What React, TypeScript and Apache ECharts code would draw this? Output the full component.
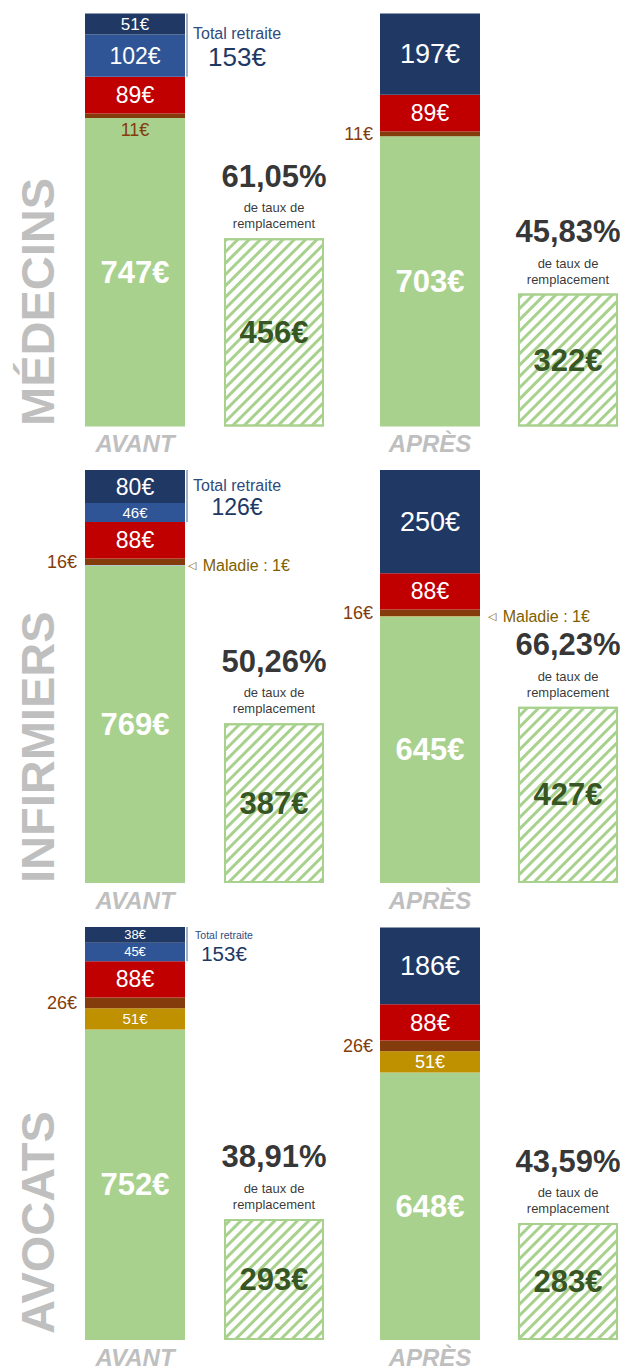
import React, { useEffect, useRef } from 'react';
import * as echarts from 'echarts';

// ---------- DATA (€ out of 1000€ of income) ----------
const PROFESSIONS = ['MÉDECINS', 'INFIRMIERS', 'AVOCATS'];
const PERIODS = ['AVANT', 'APRÈS'];
// each array: [profession][AVANT, APRÈS]
const NET = [[747, 703], [769, 645], [752, 648]];
const PREVOYANCE = [[0, 0], [0, 0], [51, 51]];
const MALADIE = [[0, 0], [1, 1], [0, 0]];
const COTISATIONS = [[11, 11], [16, 16], [26, 26]];
const CSG = [[89, 89], [88, 88], [88, 88]];
const RETRAITE_COMPL = [[102, 0], [46, 0], [45, 0]];
const RETRAITE_BASE = [[51, 197], [80, 250], [38, 186]];
const PENSION = [[456, 322], [387, 427], [293, 283]];
const TAUX = [['61,05%', '45,83%'], ['50,26%', '66,23%'], ['38,91%', '43,59%']];
const TOTAL_RETRAITE = [153, 126, 153];
const Y_MAX = 1000;

// ---------- LAYOUT / STYLE ----------
const FONT = "'Liberation Sans', Arial, sans-serif";
const BASELINE = [426.5, 883, 1340];
const PLOT_H = 413;
const BAR_LEFT = [85, 380];
const HATCH_LEFT = [224, 518];
const COL_W = 100;
const TITLE_Y = [426, 883, 1334];

const NAVY_SIZE = [[17, 27], [23, 27], [13, 27]];
const BLUE_SIZE = [[23, 0], [15, 0], [13, 0]];
const RED_SIZE = [[23, 23], [23, 23], [23, 24]];
const GOLD_SIZE = [[0, 0], [0, 0], [15, 18]];
const BROWN_POS = [['bottom', 'left'], ['left', 'left'], ['left', 'left']];
const TOTAL_STYLE = [
  { t: 16, v: 26, gap: 24, dx: 50 },
  { t: 16, v: 23, gap: 22, dx: 50 },
  { t: 10.5, v: 20.5, gap: 18, dx: 37 },
];

const white = (size: number, bold = false) => ({
  show: true,
  position: 'inside',
  formatter: '{c}€',
  color: '#fff',
  fontSize: size,
  fontWeight: bold ? 'bold' : 'normal',
  fontFamily: FONT,
});

const SEGMENTS = [
  { name: 'Revenu net', values: NET, color: () => '#A9D18E', label: () => white(31, true) },
  { name: 'Prévoyance', values: PREVOYANCE, color: () => '#BF9000', label: (p: number, c: number) => white(GOLD_SIZE[p][c]) },
  {
    name: 'Maladie',
    values: MALADIE,
    color: (p: number, c: number) => (c === 0 ? '#8FAADC' : '#FFC000'),
    label: (p: number, c: number) => ({
      show: true,
      position: 'right',
      distance: c === 0 ? 3 : 8,
      color: '#7F6000',
      formatter: (pr: any) => `{t|◁}  {n|Maladie : ${pr.value}€}`,
      rich: {
        t: { fontSize: 11, color: '#7F6000', fontFamily: FONT },
        n: { fontSize: 16, color: '#7F6000', fontFamily: FONT },
      },
    }),
  },
  {
    name: 'Cotisations',
    values: COTISATIONS,
    color: () => '#843C0C',
    label: (p: number, c: number) => ({
      show: true,
      position: BROWN_POS[p][c],
      distance: BROWN_POS[p][c] === 'bottom' ? 3 : c === 0 ? 8 : 7,
      formatter: '{c}€',
      color: '#843C0C',
      fontSize: 18,
      fontFamily: FONT,
    }),
  },
  { name: 'CSG-CRDS', values: CSG, color: () => '#C00000', label: (p: number, c: number) => white(RED_SIZE[p][c]) },
  { name: 'Retraite complémentaire', values: RETRAITE_COMPL, color: () => '#2F5597', label: (p: number, c: number) => white(BLUE_SIZE[p][c]) },
  { name: 'Retraite de base', values: RETRAITE_BASE, color: () => '#203864', label: (p: number, c: number) => white(NAVY_SIZE[p][c]) },
];

function buildOption() {
  const grid: any[] = [];
  const xAxis: any[] = [];
  const yAxis: any[] = [];
  const series: any[] = [];
  const graphic: any[] = [];

  const addGrid = (left: number, p: number, label: string | null) => {
    const idx = grid.length;
    grid.push({ left, top: BASELINE[p] - PLOT_H, width: COL_W, height: PLOT_H, outerBoundsMode: 'none', containLabel: false });
    xAxis.push({
      gridIndex: idx,
      type: 'category',
      data: [label ?? ''],
      show: label !== null,
      axisLine: { show: false },
      axisTick: { show: false },
      axisLabel: {
        show: label !== null,
        margin: 5,
        fontSize: 24,
        fontWeight: 'bold',
        fontStyle: 'italic',
        color: '#BFBFBF',
        fontFamily: FONT,
      },
    });
    yAxis.push({ gridIndex: idx, type: 'value', min: 0, max: Y_MAX, show: false });
    return idx;
  };

  PROFESSIONS.forEach((prof, p) => {
    graphic.push({
      type: 'text',
      x: 37,
      y: TITLE_Y[p],
      rotation: Math.PI / 2,
      style: {
        text: prof,
        fontSize: 47,
        fontWeight: 'bold',
        fontFamily: FONT,
        fill: '#BFBFBF',
        align: 'left',
        verticalAlign: 'middle',
      },
    });

    PERIODS.forEach((period, c) => {
      const g = addGrid(BAR_LEFT[c], p, period);
      SEGMENTS.forEach((seg) => {
        const v = seg.values[p][c];
        if (!v) return;
        series.push({
          type: 'bar',
          name: seg.name,
          xAxisIndex: g,
          yAxisIndex: g,
          stack: `s${p}${c}`,
          barWidth: COL_W,
          data: [v],
          itemStyle: { color: seg.color(p, c) },
          label: seg.label(p, c),
          emphasis: { disabled: true },
        });
      });

      if (c === 0 && TOTAL_RETRAITE[p] != null) {
        const total = SEGMENTS.reduce((s, seg) => s + seg.values[p][c], 0);
        const retr = RETRAITE_BASE[p][c] + RETRAITE_COMPL[p][c];
        const st = TOTAL_STYLE[p];
        series.push({
          type: 'custom',
          xAxisIndex: g,
          yAxisIndex: g,
          clip: false,
          silent: true,
          encode: { x: 0, y: [1, 2] },
          data: [[0, total, total - retr, TOTAL_RETRAITE[p]]],
          renderItem: (params: any, api: any) => {
            const top = api.coord([0, api.value(1)]);
            const bot = api.coord([0, api.value(2)]);
            const half = api.size([1, 0])[0] / 2;
            const x = top[0] + half + 2;
            const mid = (top[1] + bot[1]) / 2;
            const tx = x + st.dx;
            return {
              type: 'group',
              children: [
                { type: 'line', shape: { x1: x, y1: top[1], x2: x, y2: bot[1] }, style: { stroke: '#8497B0', lineWidth: 1.5 } },
                {
                  type: 'text', x: tx, y: mid - st.gap / 2,
                  style: { text: 'Total retraite', fill: '#2F4B7C', fontSize: st.t, fontFamily: FONT, align: 'center', verticalAlign: 'middle' },
                },
                {
                  type: 'text', x: tx, y: mid + st.gap / 2,
                  style: { text: `${api.value(3)}€`, fill: '#203864', fontSize: st.v, fontFamily: FONT, align: 'center', verticalAlign: 'middle' },
                },
              ],
            };
          },
        });
      }

      const h = addGrid(HATCH_LEFT[c], p, null);
      series.push({
        type: 'bar',
        name: 'Pension',
        xAxisIndex: h,
        yAxisIndex: h,
        barWidth: COL_W,
        data: [PENSION[p][c]],
        itemStyle: {
          color: '#fff',
          borderColor: '#A9D18E',
          borderWidth: 2,
          decal: {
            symbol: 'rect',
            symbolSize: 1,
            color: '#A9D18E',
            dashArrayX: [1, 0],
            dashArrayY: [3, 5],
            rotation: -Math.PI / 4,
          },
        },
        label: {
          show: true,
          position: 'inside',
          formatter: '{c}€',
          color: '#375623',
          fontSize: 31,
          fontWeight: 'bold',
          fontFamily: FONT,
        },
        emphasis: { disabled: true },
      });
      series.push({
        type: 'scatter',
        name: 'Taux',
        xAxisIndex: h,
        yAxisIndex: h,
        symbolSize: 1,
        itemStyle: { color: 'rgba(0,0,0,0)' },
        data: [[0, PENSION[p][c]]],
        label: {
          show: true,
          position: 'top',
          distance: 6,
          color: '#000',
          formatter: () => `{p|${TAUX[p][c]}}\n{s|de taux de}\n{s|remplacement}`,
          rich: {
            p: { fontSize: 31, fontWeight: 'bold', color: '#000000', lineHeight: 47, fontFamily: FONT, align: 'center' },
            s: { fontSize: 13, color: '#000000', lineHeight: 16, fontFamily: FONT, align: 'center' },
          },
        },
        emphasis: { disabled: true },
      });
    });
  });

  return {
    animation: false,
    backgroundColor: '#fff',
    textStyle: { fontFamily: FONT, color: '#000' },
    grid,
    xAxis,
    yAxis,
    series,
    graphic,
  };
}

export default function App() {
  const ref = useRef<HTMLDivElement>(null);
  useEffect(() => {
    if (!ref.current) return;
    const chart = echarts.init(ref.current, null, { renderer: 'svg' });
    chart.setOption(buildOption() as any);
    return () => chart.dispose();
  }, []);
  return <div ref={ref} style={{ position: 'absolute', left: 0, top: 0, width: 630, height: 1369 }} />;
}
